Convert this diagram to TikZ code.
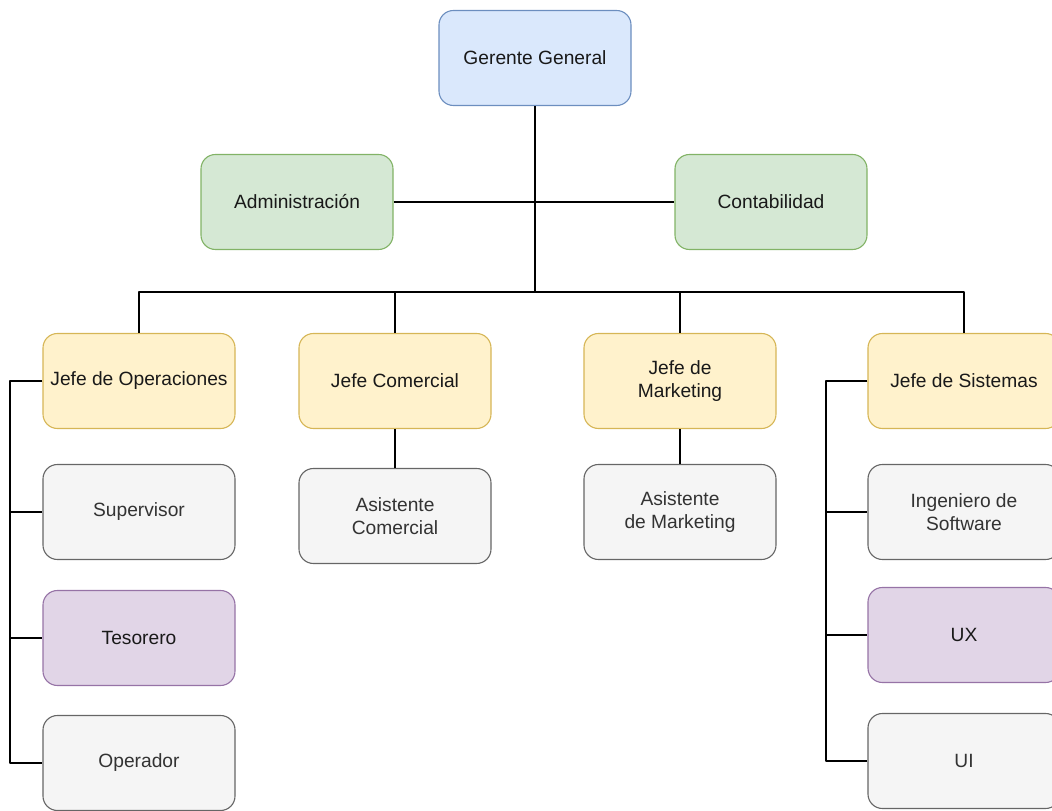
\documentclass[tikz,border=0pt]{standalone}
\usepackage{fontspec}
\setmainfont{Liberation Sans}
\usetikzlibrary{positioning}
\definecolor{bluefill}{HTML}{DAE8FC}
\definecolor{blueline}{HTML}{6C8EBF}
\definecolor{greenfill}{HTML}{D5E8D4}
\definecolor{greenline}{HTML}{82B366}
\definecolor{yellowfill}{HTML}{FFF2CC}
\definecolor{yellowline}{HTML}{D6B656}
\definecolor{purplefill}{HTML}{E1D5E7}
\definecolor{purpleline}{HTML}{9673A6}
\definecolor{grayfill}{HTML}{F5F5F5}
\definecolor{grayline}{HTML}{666666}
\definecolor{graytext}{HTML}{333333}

\begin{document}
\begin{tikzpicture}[line join=bevel,
  box/.style={draw,rounded corners=14.4bp,minimum width=192bp,minimum height=95bp,
    line width=1.1bp,align=center,inner sep=2bp,
    font=\fontsize{19.2bp}{23bp}\selectfont,text=black!90},
  bluebox/.style={box,fill=bluefill,draw=blueline},
  greenbox/.style={box,fill=greenfill,draw=greenline},
  yellowbox/.style={box,fill=yellowfill,draw=yellowline},
  purplebox/.style={box,fill=purplefill,draw=purpleline},
  graybox/.style={box,fill=grayfill,draw=grayline,text=graytext},
  link/.style={black,line width=1.5bp}]
\clip (0bp,0bp) rectangle (1052bp,811bp);
%%
\node (gerente) at (535bp,753bp) [bluebox] {Gerente General};
  \node (admin) at (297bp,609bp) [greenbox] {Administración};
  \node (conta) at (771bp,609bp) [greenbox] {Contabilidad};
  \node (jefeop) at (139bp,430bp) [yellowbox] {Jefe de Operaciones};
  \node (jefecom) at (395bp,430bp) [yellowbox] {Jefe Comercial};
  \node (jefemkt) at (680bp,430bp) [yellowbox] {Jefe de\\Marketing};
  \node (jefesis) at (964bp,430bp) [yellowbox] {Jefe de Sistemas};
  \node (superv) at (139bp,299bp) [graybox] {Supervisor};
  \node (tesor) at (139bp,173bp) [purplebox] {Tesorero};
  \node (operad) at (139bp,48bp) [graybox] {Operador};
  \node (asiscom) at (395bp,295bp) [graybox] {Asistente\\Comercial};
  \node (asismkt) at (680bp,299bp) [graybox] {Asistente\\de Marketing};
  \node (ingsoft) at (964bp,299bp) [graybox] {Ingeniero de\\Software};
  \node (ux) at (964bp,176bp) [purplebox] {UX};
  \node (ui) at (964bp,50bp) [graybox] {UI};
  \coordinate (bus) at (535bp,519bp);
  \coordinate (oprail) at (10bp,430bp);
  \coordinate (sisrail) at (826bp,430bp);
  \draw [link] (gerente.south) -- (bus);
  \draw [link] (admin.east) -- (conta.west);
  \draw [link] (bus) -| (jefeop.north);
  \draw [link] (bus) -| (jefecom.north);
  \draw [link] (bus) -| (jefemkt.north);
  \draw [link] (bus) -| (jefesis.north);
  \draw [link] (jefecom.south) -- (asiscom.north);
  \draw [link] (jefemkt.south) -- (asismkt.north);
  \draw [link] (jefeop.west) -- (oprail) |- (superv.west);
  \draw [link] (oprail) |- (tesor.west);
  \draw [link] (oprail) |- (operad.west);
  \draw [link] (jefesis.west) -- (sisrail) |- (ingsoft.west);
  \draw [link] (sisrail) |- (ux.west);
  \draw [link] (sisrail) |- (ui.west);
%
\end{tikzpicture}
\end{document}
